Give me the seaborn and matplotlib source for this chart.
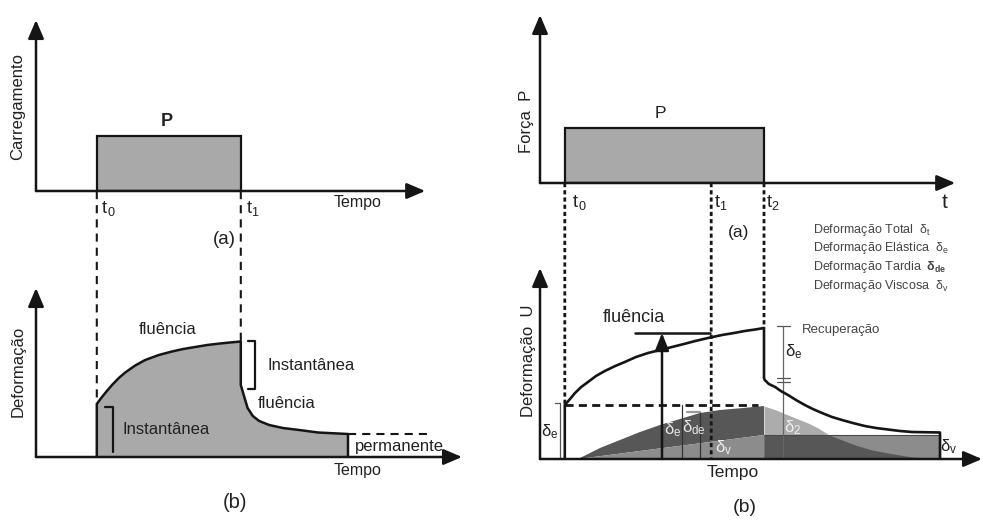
import numpy as np
import pandas as pd
import matplotlib
matplotlib.use("Agg")
import matplotlib.pyplot as plt
import seaborn as sns
from matplotlib.patches import ConnectionPatch

# ---------------- data ----------------
# left side (time units shared by both left panels)
left_times = [1.52, 5.12]            # t0, t1
left_load = 0.55                     # load P
left_creep_t = [1.52, 1.62, 1.73, 1.90, 2.07, 2.23, 2.48, 2.73, 3.07, 3.40,
                3.68, 3.98, 4.28, 4.60, 4.85, 5.12]
left_creep_u = [0.53, 0.585, 0.64, 0.72, 0.79, 0.845, 0.915, 0.97, 1.02, 1.055,
                1.08, 1.10, 1.12, 1.135, 1.145, 1.155]
left_recov_t = [5.12, 5.12, 5.23, 5.29, 5.42, 5.58, 5.83, 6.17, 6.58, 7.05, 7.80]
left_recov_u = [0.86, 0.72, 0.57, 0.49, 0.41, 0.36, 0.32, 0.29, 0.27, 0.245, 0.23]
left_perm_end = 9.8

# right side
right_times = [0.62, 4.28, 5.60]     # t0, t1, t2
right_load = 0.55
total_t = [0.62, 0.75, 0.875, 1.03, 1.20, 1.40, 1.62, 1.88, 2.12, 2.40, 2.70,
           3.00, 3.30, 3.60, 3.88, 4.20, 4.55, 4.85, 5.12, 5.38, 5.60]
total_u = [0.54, 0.60, 0.66, 0.72, 0.77, 0.83, 0.88, 0.93, 0.97, 1.02, 1.06,
           1.09, 1.12, 1.15, 1.18, 1.21, 1.24, 1.26, 1.28, 1.295, 1.31]
decay_t = [5.60, 5.62, 5.72, 5.88, 6.02, 6.20, 6.40, 6.62, 6.82, 7.05, 7.30,
           7.55, 7.82, 8.12, 8.40, 8.70, 9.00, 9.30, 10.0]
decay_u = [0.81, 0.79, 0.75, 0.72, 0.68, 0.64, 0.59, 0.54, 0.50, 0.46, 0.42,
           0.39, 0.36, 0.33, 0.31, 0.295, 0.28, 0.27, 0.265]
upper_t = [0.95, 1.25, 1.50, 1.75, 2.00, 2.50, 3.00, 3.50, 4.00, 4.50, 5.08, 5.60]
upper_u = [0.00, 0.06, 0.11, 0.15, 0.19, 0.27, 0.34, 0.40, 0.46, 0.49, 0.51, 0.53]
visc_t = [0.95, 5.60, 10.0]
visc_u = [0.00, 0.24, 0.24]
d2_t = [5.60, 5.90, 6.20, 6.45, 6.70, 6.95, 7.23, 7.55, 7.88, 8.30, 8.70, 9.30, 9.80, 10.0]
d2_u = [0.53, 0.49, 0.44, 0.40, 0.36, 0.31, 0.24, 0.19, 0.14, 0.09, 0.06, 0.02, 0.005, 0.0]
elastic_level = 0.54
fluencia_level = 1.26
fluencia_t = 3.05
legend_labels = [r"Deformação Total  $\delta_t$",
                 r"Deformação Elástica  $\delta_e$",
                 r"Deformação Tardia  $\mathbf{\delta_{de}}$",
                 r"Deformação Viscosa  $\delta_v$"]

# ---------------- style ----------------
sns.set_theme(style="white")
plt.rcParams["font.family"] = ["Liberation Sans", "DejaVu Sans"]
plt.rcParams.update({
    "mathtext.fontset": "custom",
    "mathtext.rm": "Liberation Sans",
    "mathtext.it": "Liberation Sans:italic",
    "mathtext.bf": "Liberation Sans:bold",
    "mathtext.default": "regular",
    "lines.solid_joinstyle": "round",
})

INK = "#151515"
FILL = "#a9a9a9"
DARK = "#575757"
MID = "#8c8c8c"
LIGHT = "#acacac"
TXT = "#222222"

W, H = 983, 523
fig = plt.figure(figsize=(W / 100, H / 100), dpi=100)
fig.patch.set_facecolor("white")


def panel(x0, x1, yb, yt, xmax, ymax):
    ax = fig.add_axes([x0 / W, 1 - yb / H, (x1 - x0) / W, (yb - yt) / H])
    ax.set_xlim(0, xmax)
    ax.set_ylim(0, ymax)
    ax.set_axis_off()
    ax.patch.set_alpha(0)
    return ax


def axis_arrows(ax, xend, yend):
    kw = dict(arrowstyle="-|>,head_length=0.75,head_width=0.32", lw=1.8,
              color=INK, shrinkA=0, shrinkB=0, mutation_scale=15)
    ax.annotate("", xy=(xend, 0), xytext=(0, 0), arrowprops=kw,
                annotation_clip=False, zorder=6)
    ax.annotate("", xy=(0, yend), xytext=(0, 0), arrowprops=kw,
                annotation_clip=False, zorder=6)


def connect(axA, xyA, axB, xyB, ls, lw):
    cp = ConnectionPatch(xyA=xyA, coordsA=axA.transData, xyB=xyB,
                         coordsB=axB.transData, linestyle=ls, lw=lw,
                         color=INK, capstyle="butt")
    fig.add_artist(cp)


def txt(ax, x, y, s, size=12, **kw):
    kw.setdefault("color", TXT)
    kw.setdefault("va", "center")
    ax.text(x, y, s, fontsize=size, clip_on=False, **kw)


# ================= LEFT TOP =================
axLT = panel(36, 462, 191, 20, 10.65, 1.71)
t0, t1 = left_times
axLT.bar((t0 + t1) / 2, left_load, width=t1 - t0, color=FILL,
         edgecolor=INK, linewidth=1.6, zorder=2)
axis_arrows(axLT, 9.73, 1.71)
txt(axLT, (t0 + t1) / 2 - 0.05, left_load + 0.14, "P", size=13,
    fontweight="bold", ha="center")
txt(axLT, -0.45, 0.84, "Carregamento", rotation=90, ha="center")
txt(axLT, t0 + 0.1, -0.17, r"t$_{\,0}$", size=13, ha="left")
txt(axLT, t1 + 0.13, -0.17, r"t$_1$", size=13, ha="left")
txt(axLT, 7.45, -0.11, "Tempo", size=11.5, ha="left")
txt(axLT, 4.72, -0.48, "(a)", size=13.5, ha="center")

# ================= LEFT BOTTOM =================
axLB = panel(36, 462, 457, 288, 10.65, 1.69)
out_t = [left_creep_t[0]] + left_creep_t + left_recov_t + [left_recov_t[-1]]
out_u = [0.0] + left_creep_u + left_recov_u + [0.0]
axLB.fill_between(out_t, 0, out_u, color=FILL, lw=0, zorder=1)
df_left = pd.DataFrame({"t": out_t, "u": out_u})
sns.lineplot(data=df_left, x="t", y="u", sort=False, estimator=None,
             color=INK, lw=1.8, ax=axLB, zorder=3)
axLB.plot([left_recov_t[-1], left_perm_end], [left_recov_u[-1]] * 2,
          ls=(0, (3.9, 2.9)), lw=1.5, color=INK)
axis_arrows(axLB, 10.65, 1.69)
axLB.set_axis_off()
# brackets
axLB.plot([1.73, 1.93, 1.93], [0.50, 0.50, 0.05], color=INK, lw=1.6)
axLB.plot([5.30, 5.48, 5.48, 5.30], [1.16, 1.16, 0.68, 0.68], color=INK, lw=1.6)
txt(axLB, -0.44, 0.86, "Deformação", rotation=90, ha="center")
txt(axLB, 3.3, 1.27, "fluência", ha="center")
txt(axLB, 5.78, 0.92, "Instantânea", ha="left")
txt(axLB, 5.55, 0.54, "fluência", ha="left")
txt(axLB, 2.17, 0.27, "Instantânea", ha="left")
txt(axLB, 7.98, 0.11, "permanente", ha="left")
txt(axLB, 7.43, -0.13, "Tempo", size=11.5, ha="left")
txt(axLB, 4.98, -0.46, "(b)", size=14.5, ha="center")

connect(axLT, (t0, 0), axLB, (t0, left_creep_u[0]), (0, (3.9, 2.9)), 1.5)
connect(axLT, (t1, 0), axLB, (t1, left_creep_u[-1]), (0, (3.9, 2.9)), 1.5)

# ================= RIGHT TOP =================
axRT = panel(540, 982, 183, 15, 11.05, 1.68)
r0, r1, r2 = right_times
axRT.bar((r0 + r2) / 2, right_load, width=r2 - r0, color=FILL,
         edgecolor=INK, linewidth=1.6, zorder=2)
axis_arrows(axRT, 10.38, 1.68)
txt(axRT, 3.0, 0.70, "P", size=12.5, ha="center")
txt(axRT, -0.35, 0.62, "Força  P", rotation=90, ha="center")
txt(axRT, r0 + 0.18, -0.19, r"t$_{\,0}$", size=13, ha="left")
txt(axRT, r1 + 0.08, -0.19, r"t$_1$", size=13, ha="left")
txt(axRT, r2 + 0.06, -0.19, r"t$_2$", size=13, ha="left")
txt(axRT, 10.05, -0.19, "t", size=15, ha="left")
txt(axRT, 4.97, -0.50, "(a)", size=12.5, ha="center")
for i, lab in enumerate(legend_labels):
    txt(axRT, 6.83, -0.47 - 0.185 * i, lab, size=9, ha="left", color="#444444")

# ================= RIGHT BOTTOM =================
axRB = panel(540, 982, 459, 268, 11.05, 1.91)
# shaded components during loading
axRB.fill(upper_t + [visc_t[1], visc_t[0]], upper_u + [visc_u[1], visc_u[0]],
          color=DARK, lw=0, zorder=1)
axRB.fill([visc_t[0], visc_t[1], visc_t[1]], [visc_u[0], visc_u[1], 0],
          color=MID, lw=0, zorder=1)
# after unloading
axRB.fill_between([visc_t[1], visc_t[2]], 0, visc_u[2], color=MID, lw=0, zorder=1)
d2t = np.array(d2_t)
d2u = np.array(d2_u)
axRB.fill_between(d2t, 0, np.minimum(d2u, visc_u[2]), color=DARK, lw=0, zorder=1.5)
axRB.fill_between(d2t, visc_u[2], d2u, where=d2u >= visc_u[2], color=LIGHT,
                  lw=0, zorder=1.5)
axRB.plot([visc_t[1], visc_t[2]], [visc_u[2]] * 2, color="#4a4a4a", lw=0.8, zorder=2)
axRB.plot([visc_t[2], visc_t[2]], [0, visc_u[2]], color="#6a6a6a", lw=0.8, zorder=2)

# thin guide lines
axRB.plot([3.55, 3.55], [0, elastic_level], color="#333333", lw=0.9, zorder=2)
axRB.plot([4.00, 4.00], [0, 0.47], color="#333333", lw=0.9, zorder=2)
axRB.plot([3.68, 4.00], [0.47, 0.47], color="#9a9a9a", lw=1.6, zorder=2)
# elastic bracket (left)
axRB.plot([0.37, 0.50, 0.50], [0.56, 0.56, 0.0], color="#555555", lw=0.9, zorder=2)
# recovery bracket
axRB.plot([6.08, 6.08], [0, 1.33], color="#666666", lw=0.9, zorder=2)
for yy in (1.33, 0.81, 0.77):
    axRB.plot([5.93, 6.25], [yy, yy], color="#555555", lw=0.9, zorder=2)

# total deformation curve
tot_t = [total_t[0]] + total_t + decay_t + [decay_t[-1]]
tot_u = [0.0] + total_u + decay_u + [0.0]
df_right = pd.DataFrame({"t": tot_t, "u": tot_u})
sns.lineplot(data=df_right, x="t", y="u", sort=False, estimator=None,
             color=INK, lw=1.9, ax=axRB, zorder=4)
axRB.set_axis_off()
axRB.plot([total_t[0], 5.45], [elastic_level] * 2, ls=(0, (2.9, 1.9)),
          lw=2.0, color=INK, zorder=4)
# fluência arrow
axRB.annotate("", xy=(fluencia_t, fluencia_level), xytext=(fluencia_t, 0),
              arrowprops=dict(arrowstyle="-|>,head_length=0.7,head_width=0.28",
                              lw=1.8, color=INK, shrinkA=0, shrinkB=0,
                              mutation_scale=15), zorder=5)
axRB.plot([2.38, 4.25], [fluencia_level] * 2, color=INK, lw=1.8, zorder=5)
axis_arrows(axRB, 11.05, 1.91)

txt(axRB, 1.58, 1.41, "fluência", size=13, ha="left")
txt(axRB, -0.30, 0.98, "Deformação  U", rotation=90, ha="center")
txt(axRB, 0.25, 0.27, r"$\delta_e$", size=12, ha="center")
txt(axRB, 3.32, 0.29, r"$\delta_e$", size=12, ha="center", color="#e6e6e6")
txt(axRB, 3.85, 0.31, r"$\delta_{de}$", size=12, ha="center", color="#e6e6e6")
txt(axRB, 4.58, 0.11, r"$\delta_v$", size=12, ha="center", color="#eeeeee")
txt(axRB, 6.32, 0.31, r"$\delta_2$", size=12, ha="center", color="#eeeeee")
txt(axRB, 6.35, 1.07, r"$\delta_e$", size=12, ha="center")
txt(axRB, 6.55, 1.29, "Recuperação", size=9.5, ha="left", color="#444444")
txt(axRB, 10.22, 0.12, r"$\delta_v$", size=12, ha="center")
txt(axRB, 4.83, -0.13, "Tempo", size=12.5, ha="center")
txt(axRB, 5.12, -0.48, "(b)", size=14, ha="center")

dot = (0, (1.5, 1.1))
connect(axRT, (r0, 0), axRB, (r0, total_u[0]), dot, 2.0)
connect(axRT, (r1, 0), axRB, (r1, 0), dot, 2.0)
connect(axRT, (r2, 0), axRB, (r2, total_u[-1]), dot, 2.0)

fig.savefig("out.png", dpi=100, facecolor="white")
